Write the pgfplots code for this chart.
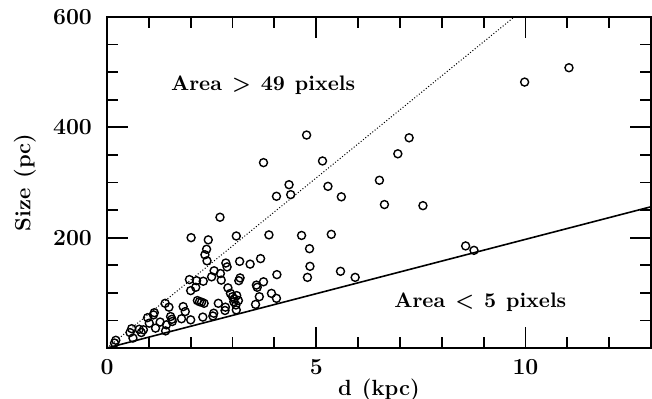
\documentclass[border=0pt]{standalone}
\usepackage{pgfplots}
\pgfplotsset{compat=1.18}
\begin{document}
\begin{tikzpicture}
\begin{axis}[
  scale only axis,
  width=272pt, height=165.5pt,
  xmin=0, xmax=13, ymin=0, ymax=600,
  xtick={0,5,10}, minor xtick={1,2,3,4,6,7,8,9,11,12,13},
  ytick={200,400,600}, minor ytick={50,100,150,250,300,350,450,500,550},
  tick align=inside, tick pos=both,
  major tick length=10.5pt, minor tick length=5.5pt,
  every tick/.style={black, line width=0.9pt},
  axis line style={line width=1pt},
  /pgf/number format/assume math mode=true,
  ticklabel style={font=\fontsize{11.5}{13}\selectfont\bfseries},
  xticklabel style={yshift=-2pt},
  yticklabel style={xshift=-4pt},
  xlabel={d\hspace{5pt}(kpc)}, ylabel={Size\hspace{5pt}(pc)},
  every axis x label/.style={at={(axis description cs:0.5,0)}, anchor=center, yshift=-21pt, font=\fontsize{11}{13}\selectfont\bfseries},
  every axis y label/.style={at={(axis description cs:0,0.5)}, rotate=90, anchor=center, yshift=41pt, font=\fontsize{11}{13}\selectfont\bfseries},
  clip=true,
]
\coordinate (sw) at (rel axis cs:0,0);
\addplot[black, line width=0.8pt] coordinates {(0,0) (13,256)};
\addplot[black, line width=0.5pt, densely dotted] coordinates {(0,0) (9.73,600)};
\addplot[only marks, mark=o, mark size=2pt, black, mark options={line width=0.7pt}] coordinates {
(9.98,482)(11.04,508)(4.77,386)(7.22,381)(6.95,352)(3.74,336)(5.15,339)(4.35,296)(4.05,275)(4.39,278)(5.28,293)(5.60,274)(6.51,304)(6.63,260)(7.55,258)(2.70,237)
(2.01,200)(2.42,196)(2.38,179)(2.34,169)(2.39,158)(3.09,203)(3.87,205)(4.65,204)(5.36,206)(4.84,180)(4.85,148)(4.79,128)(5.58,139)(5.93,128)(8.57,185)(8.77,177)
(3.67,162)(3.42,152)(3.17,157)(2.84,154)(2.87,147)(2.56,140)(2.71,135)(2.50,129)(2.73,123)(3.18,127)(3.15,122)(4.06,133)(3.74,120)(3.57,114)(3.59,110)
(1.97,124)(2.14,122)(2.30,121)(2.12,110)(2.00,104)(2.89,109)
(2.95,99)(3.00,93)(3.04,89)(3.10,95)(3.14,86)(3.08,78)(3.03,84)
(3.93,99)(3.64,93)(4.05,90)(3.55,79)
(2.16,86)(2.21,84)(2.26,83)(2.32,81)(2.66,81)(2.83,74)(3.09,69)(2.82,68)(2.55,63)(2.53,58)(2.29,56)
(1.82,75)(1.87,66)(1.78,53)(2.00,51)
(1.56,48)(1.52,57)(1.55,52)(1.48,74)(1.39,81)(1.13,64)(1.11,60)(0.97,55)(1.27,47)(1.42,42)(1.01,45)(1.16,36)(1.40,31)(0.87,33)(0.77,34)(0.82,28)(0.59,35)(0.55,28)(0.62,18)(0.21,14)(0.18,9)
};
\node[font=\fontsize{10.5}{12}\selectfont\bfseries] at (axis cs:3.73,477) {Area\hspace{5pt}>\hspace{5pt}49\hspace{5pt}pixels};
\node[font=\fontsize{10.5}{12}\selectfont\bfseries] at (axis cs:8.92,83) {Area\hspace{5pt}<\hspace{5pt}5\hspace{5pt}pixels};
\end{axis}
\pgfresetboundingbox
\path (sw) ++(-53.5pt,-25.5pt) rectangle ++(326pt,199.5pt);
\end{tikzpicture}
\end{document}
